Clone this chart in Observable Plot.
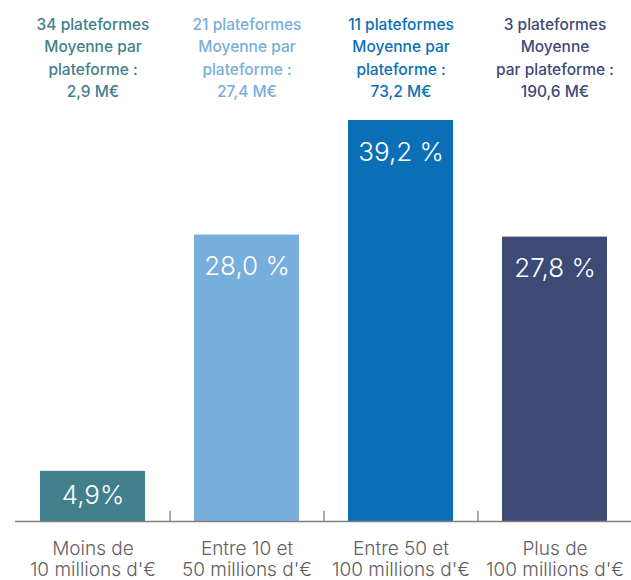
<!DOCTYPE html>
<html>
<head>
<meta charset="utf-8">
<script src="https://cdn.jsdelivr.net/npm/d3@7"></script>
<script src="https://cdn.jsdelivr.net/npm/@observablehq/plot@0.6"></script>
<style>
  html, body { margin: 0; padding: 0; background: #fff; }
  svg { display: block; }
</style>
</head>
<body>
<div id="chart"></div>
<script>
const categories = ["Moins de\n10 millions d'€", "Entre 10 et\n50 millions d'€", "Entre 50 et\n100 millions d'€", "Plus de\n100 millions d'€"];
const values = [4.9, 28.0, 39.2, 27.8];
const valueLabels = ["4,9%", "28,0 %", "39,2 %", "27,8 %"];
const headers = [
  "34 plateformes\nMoyenne par\nplateforme :\n2,9 M€",
  "21 plateformes\nMoyenne par\nplateforme :\n27,4 M€",
  "11 plateformes\nMoyenne par\nplateforme :\n73,2 M€",
  "3 plateformes\nMoyenne\npar plateforme :\n190,6 M€"
];
const colors = ["#417f8c", "#78aedb", "#0b6fb8", "#3c4a75"];

const data = categories.map((c, i) => ({cat: c, value: values[i], label: valueLabels[i], header: headers[i], color: colors[i], i}));

const chart = Plot.plot({
  width: 631,
  height: 580,
  marginLeft: 15,
  marginRight: 0,
  marginTop: 120,
  marginBottom: 59,
  style: {fontFamily: "Inter, 'Open Sans', sans-serif", background: "#fff"},
  x: {domain: categories, paddingInner: 0.32, paddingOuter: 0.16, axis: null},
  y: {domain: [0, 39.2], axis: null},
  marks: [
    Plot.barY(data, {x: "cat", y: "value", fill: "color"}),
    Plot.ruleY([0], {stroke: "#808080", strokeWidth: 1.3}),
    Plot.ruleX(data.filter(d => d.i > 0), {x: "cat", y1: 0, y2: 1, dx: -77, stroke: "#808080", strokeWidth: 1.3}),
    Plot.text(data.filter(d => d.i === 0), {x: "cat", y: "value", text: "label", dy: 24, fill: "#fff", fontSize: 26, fontWeight: 300}),
    Plot.text(data.filter(d => d.i > 0), {x: "cat", y: "value", text: "label", dy: 32, fill: "#fff", fontSize: 26, fontWeight: 300}),
    Plot.text(data, {x: "cat", text: "header", frameAnchor: "top", lineAnchor: "middle", dy: -64, lineHeight: 1.45, fontSize: 15.5, fontWeight: 500, fill: "color"}),
    Plot.text(data, {x: "cat", text: "cat", frameAnchor: "bottom", lineAnchor: "middle", dy: 37, lineHeight: 1.15, fontSize: 19, fontWeight: 300, fill: "#606060"})
  ]
});
document.getElementById("chart").append(chart);
</script>
</body>
</html>
